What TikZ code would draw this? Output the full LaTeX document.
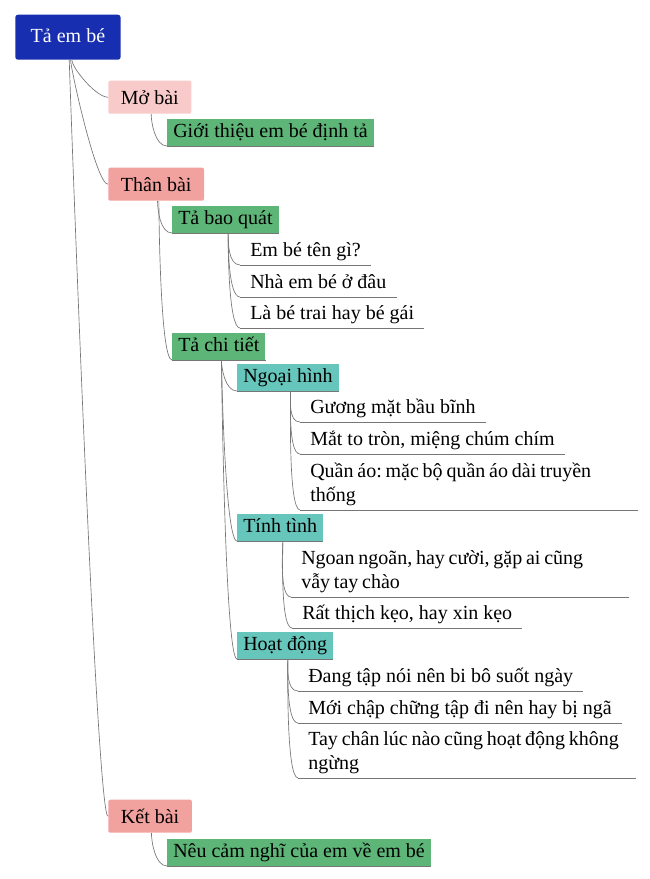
\documentclass[tikz,border=0pt]{standalone}
\usepackage{fontspec}
\setmainfont{Liberation Serif}
\usepackage{xcolor}
\usepackage{tikz}

\definecolor{rootblue}{RGB}{24,46,176}
\definecolor{palepink}{RGB}{249,202,202}
\definecolor{rosepink}{RGB}{242,162,158}
\definecolor{leafgreen}{RGB}{94,181,120}
\definecolor{tealbox}{RGB}{102,198,188}
\definecolor{linegray}{RGB}{118,118,118}

\newcommand{\mapfont}{\fontsize{15}{18}\selectfont\frenchspacing}

\tikzset{
	rootbox/.style={fill=rootblue, text=white, rounded corners=2pt, inner xsep=11.6pt, minimum height=33.75pt, text height=11.25pt, text depth=3pt},
	partbox/.style={rounded corners=1.5pt, inner xsep=9.5pt, inner ysep=3.75pt, text height=14.25pt, text depth=3pt},
	subbox/.style={inner xsep=4.5pt, inner ysep=3pt, text height=11.25pt, text depth=3pt},
	leaf/.style={inner xsep=7.5pt, inner ysep=3pt, text depth=3pt},
	longleaf/.style={inner xsep=7.5pt, inner ysep=3pt, text width=237.75pt, align=left, execute at begin node={\spaceskip=0.19em\relax}},
	branch/.style={draw=linegray, line width=0.5pt, out=-90, in=180, out distance=6pt, in distance=9pt},
	uline/.style={draw=linegray, line width=0.5pt}
}

\begin{document}
\begin{tikzpicture}[x=0.75pt, y=-0.75pt, every node/.style={anchor=south west, font=\mapfont}]
		\useasboundingbox (0,0) rectangle (650,879);
		
		\node[rootbox] (root) at (15,60) {Tả em bé};
		
		% Mo bai
		\node[partbox, fill=palepink] (mo) at (108,114) {Mở bài};
		\node[subbox, fill=leafgreen] (gioithieu) at (167,146) {Giới thiệu em bé định tả};
		
		% Than bai
		\node[partbox, fill=rosepink] (than) at (108,201) {Thân bài};
		\node[subbox, fill=leafgreen] (baoquat) at (172,233) {Tả bao quát};
		\node[leaf] (ten) at (240,265) {Em bé tên gì?};
		\node[leaf] (nha) at (240,297) {Nhà em bé ở đâu};
		\node[leaf] (la) at (240,328) {Là bé trai hay bé gái};
		
		\node[subbox, fill=leafgreen] (chitiet) at (172,360) {Tả chi tiết};
		\node[subbox, fill=tealbox] (ngoai) at (237,391) {Ngoại hình};
		\node[leaf] (guong) at (300,422) {Gương mặt bầu bĩnh};
		\node[leaf] (mat) at (300,454) {Mắt to tròn, miệng chúm chím};
		\node[longleaf] (quan) at (300,510) {\mbox{Quần áo: mặc bộ quần áo dài truyền}\\thống};
		
		\node[subbox, fill=tealbox] (tinh) at (237,541) {Tính tình};
		\node[longleaf] (ngoan) at (291,597) {\mbox{Ngoan ngoãn, hay cười, gặp ai cũng}\\vẫy tay chào};
		\node[leaf] (rat) at (292,628) {Rất thịch kẹo, hay xin kẹo};
		
		\node[subbox, fill=tealbox] (hoat) at (237,659) {Hoạt động};
		\node[leaf] (dang) at (298,691) {Đang tập nói nên bi bô suốt ngày};
		\node[leaf] (moi) at (298,723) {Mới chập chững tập đi nên hay bị ngã};
		\node[longleaf] (tay) at (298,778) {\mbox{Tay chân lúc nào cũng hoạt động không}\\ngừng};
		
		% Ket bai
		\node[partbox, fill=rosepink] (ket) at (108,833) {Kết bài};
		\node[subbox, fill=leafgreen] (neu) at (167,866) {Nêu cảm nghĩ của em về em bé};
		
		\foreach \n in {gioithieu, baoquat, ten, nha, la, chitiet, ngoai, guong, mat, quan, tinh, ngoan, rat, hoat, dang, moi, tay, neu}
			\draw[uline] (\n.south west) -- (\n.south east);
		
		\draw[branch] ([xshift=3pt]root.south) to (mo.west);
		\draw[branch] ([xshift=2pt]root.south) to (than.west);
		\draw[branch] ([xshift=1pt]root.south) to (ket.west);
		
		\draw[branch] ([xshift=1pt]mo.south) to (gioithieu.south west);
		\draw[branch] ([xshift=1pt]than.south) to (baoquat.south west);
		\draw[branch] ([xshift=2pt]than.south) to (chitiet.south west);
		\draw[branch] ([xshift=1pt]ket.south) to (neu.south west);
		
		\draw[branch] ([xshift=2pt]baoquat.south) to (ten.south west);
		\draw[branch] ([xshift=2pt]baoquat.south) to (nha.south west);
		\draw[branch] ([xshift=2pt]baoquat.south) to (la.south west);
		
		\draw[branch] ([xshift=2pt]chitiet.south) to (ngoai.south west);
		\draw[branch] ([xshift=2pt]chitiet.south) to (tinh.south west);
		\draw[branch] ([xshift=2pt]chitiet.south) to (hoat.south west);
		
		\draw[branch] ([xshift=2pt]ngoai.south) to (guong.south west);
		\draw[branch] ([xshift=2pt]ngoai.south) to (mat.south west);
		\draw[branch] ([xshift=2pt]ngoai.south) to (quan.south west);
		
		\draw[branch] ([xshift=2pt]tinh.south) to (ngoan.south west);
		\draw[branch] ([xshift=2pt]tinh.south) to (rat.south west);
		
		\draw[branch] ([xshift=2pt]hoat.south) to (dang.south west);
		\draw[branch] ([xshift=2pt]hoat.south) to (moi.south west);
		\draw[branch] ([xshift=2pt]hoat.south) to (tay.south west);
	\end{tikzpicture}
\end{document}
